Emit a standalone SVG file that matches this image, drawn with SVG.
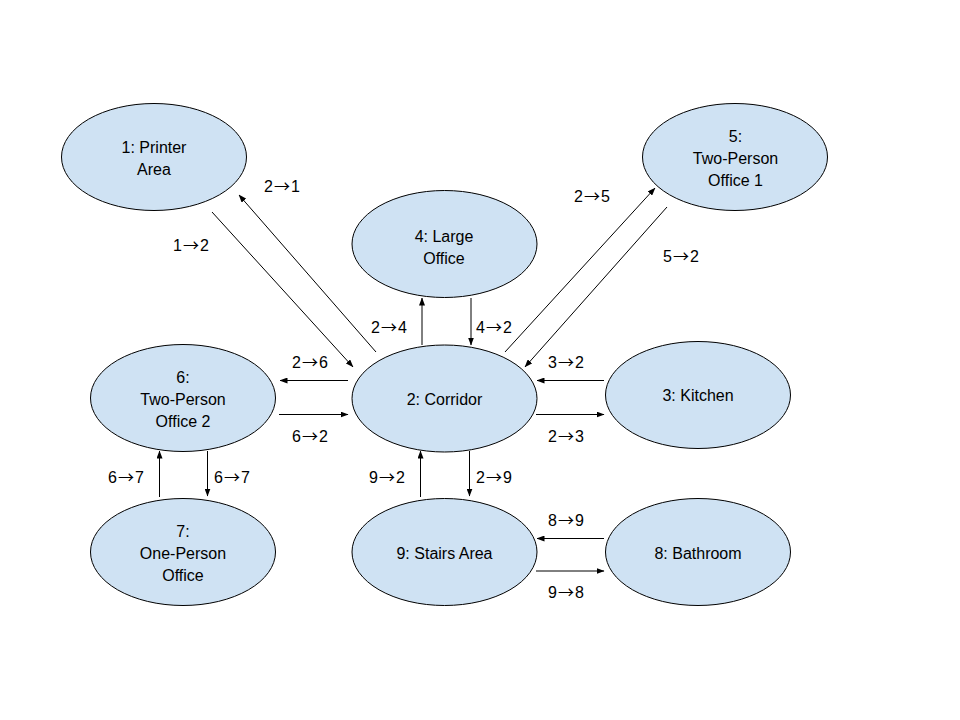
<svg xmlns="http://www.w3.org/2000/svg" width="960" height="720" viewBox="0 0 960 720">
<defs>
<marker id="ah" markerUnits="userSpaceOnUse" markerWidth="8" markerHeight="6" refX="7.5" refY="3" orient="auto">
<path d="M0,0 L8,3 L0,6 z" fill="#000"/>
</marker>
<style>
.n ellipse{fill:#cfe2f3;stroke:#000;stroke-width:1}
text{font-family:"Liberation Sans",Arial,sans-serif;font-size:16px;fill:#000;text-anchor:middle}
.a{font-family:"Noto Sans CJK SC","Liberation Sans",sans-serif}
.c line{stroke:#000;stroke-width:1;marker-end:url(#ah)}
</style>
</defs>
<rect width="960" height="720" fill="#fff"/>
<g id="n1" class="n"><ellipse cx="154" cy="157" rx="92.5" ry="53.5"/><text x="154" y="153">1: Printer</text><text x="154" y="175">Area</text></g>
<g id="n4" class="n"><ellipse cx="444.5" cy="244" rx="92.5" ry="53.5"/><text x="444" y="242">4: Large</text><text x="444" y="264">Office</text></g>
<g id="n5" class="n"><ellipse cx="735" cy="157" rx="92.5" ry="53.5"/><text x="735.5" y="142">5:</text><text x="735.5" y="164">Two-Person</text><text x="735.5" y="186">Office 1</text></g>
<g id="n2" class="n"><ellipse cx="444.5" cy="398.5" rx="92.5" ry="53.5"/><text x="444.5" y="405">2: Corridor</text></g>
<g id="n3" class="n"><ellipse cx="698" cy="395" rx="92.5" ry="53.5"/><text x="698" y="401">3: Kitchen</text></g>
<g id="n6" class="n"><ellipse cx="183" cy="398" rx="92.5" ry="53.5"/><text x="183" y="383">6:</text><text x="183" y="405">Two-Person</text><text x="183" y="427">Office 2</text></g>
<g id="n7" class="n"><ellipse cx="183" cy="552" rx="92.5" ry="53.5"/><text x="183" y="537">7:</text><text x="183" y="559">One-Person</text><text x="183" y="581">Office</text></g>
<g id="n9" class="n"><ellipse cx="444.5" cy="552" rx="92.5" ry="53.5"/><text x="444.5" y="559">9: Stairs Area</text></g>
<g id="n8" class="n"><ellipse cx="698" cy="552" rx="92.5" ry="53.5"/><text x="698" y="559">8: Bathroom</text></g>
<g id="connectors" class="c">
<line x1="212" y1="212" x2="353" y2="367"/>
<line x1="376" y1="352" x2="239" y2="195"/>
<line x1="422" y1="345" x2="422" y2="298"/>
<line x1="471" y1="298" x2="471" y2="345"/>
<line x1="505" y1="352" x2="655" y2="188"/>
<line x1="667" y1="207" x2="525" y2="367"/>
<line x1="604" y1="380.5" x2="537" y2="380.5"/>
<line x1="536" y1="414.5" x2="604" y2="414.5"/>
<line x1="348" y1="380.5" x2="280" y2="380.5"/>
<line x1="279" y1="414.5" x2="348" y2="414.5"/>
<line x1="159.5" y1="497" x2="159.5" y2="451"/>
<line x1="207.5" y1="451" x2="207.5" y2="496"/>
<line x1="420.5" y1="497" x2="420.5" y2="451"/>
<line x1="469.5" y1="451" x2="469.5" y2="496"/>
<line x1="604" y1="538.5" x2="537" y2="538.5"/>
<line x1="536" y1="571" x2="604" y2="571"/>
</g>
<g id="labels">
<text x="282" y="192">2<tspan class="a" dx="1">→</tspan><tspan dx="1">1</tspan></text>
<text x="191" y="251">1<tspan class="a" dx="1">→</tspan><tspan dx="1">2</tspan></text>
<text x="389" y="333">2<tspan class="a" dx="1">→</tspan><tspan dx="1">4</tspan></text>
<text x="494" y="333">4<tspan class="a" dx="1">→</tspan><tspan dx="1">2</tspan></text>
<text x="592" y="202">2<tspan class="a" dx="1">→</tspan><tspan dx="1">5</tspan></text>
<text x="681" y="262">5<tspan class="a" dx="1">→</tspan><tspan dx="1">2</tspan></text>
<text x="566" y="368">3<tspan class="a" dx="1">→</tspan><tspan dx="1">2</tspan></text>
<text x="566" y="442">2<tspan class="a" dx="1">→</tspan><tspan dx="1">3</tspan></text>
<text x="310" y="368">2<tspan class="a" dx="1">→</tspan><tspan dx="1">6</tspan></text>
<text x="310" y="442">6<tspan class="a" dx="1">→</tspan><tspan dx="1">2</tspan></text>
<text x="126" y="483">6<tspan class="a" dx="1">→</tspan><tspan dx="1">7</tspan></text>
<text x="232" y="483">6<tspan class="a" dx="1">→</tspan><tspan dx="1">7</tspan></text>
<text x="387" y="483">9<tspan class="a" dx="1">→</tspan><tspan dx="1">2</tspan></text>
<text x="494" y="483">2<tspan class="a" dx="1">→</tspan><tspan dx="1">9</tspan></text>
<text x="566" y="526">8<tspan class="a" dx="1">→</tspan><tspan dx="1">9</tspan></text>
<text x="566" y="598">9<tspan class="a" dx="1">→</tspan><tspan dx="1">8</tspan></text>
</g>
</svg>
